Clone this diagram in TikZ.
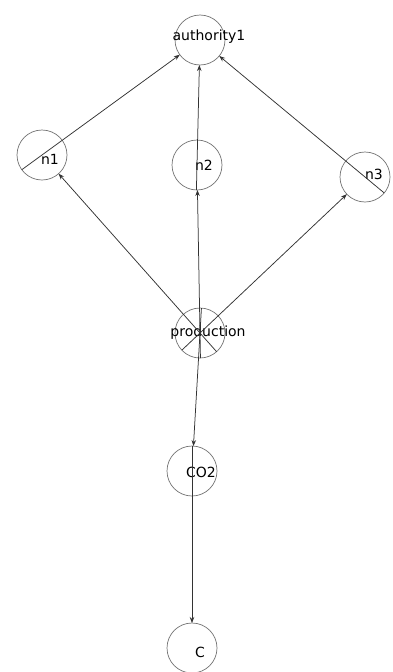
\documentclass[tikz,border=0pt]{standalone}
\usepackage{fontspec}
\setmainfont{DejaVu Sans}
\usetikzlibrary{calc,arrows.meta}
\tikzset{
  state/.style={circle, draw=black!55, line width=0.7pt, minimum size=50pt, inner sep=0pt},
  lbl/.style={font=\fontsize{14}{16}\selectfont, text=black},
  edge/.style={draw=black!80, line width=0.75pt, -{Stealth[length=6pt,width=4.5pt]}}
}
\newcommand{\edgeline}[2]{\draw[edge] ($(#1.center)!-25pt!(#2.center)$) -- ($(#2.center)!25pt!(#1.center)$);}
\begin{document}
\begin{tikzpicture}[x=1pt,y=-1pt]
\useasboundingbox (0,0) rectangle (393,672);
\node[state, label={[lbl,xshift=9pt,yshift=3pt]center:authority1}] (auth) at (200,40) {};
\node[state, label={[lbl,xshift=8pt,yshift=-4pt]center:n1}] (n1) at (42,155) {};
\node[state, label={[lbl,xshift=7pt]center:n2}] (n2) at (197,165) {};
\node[state, label={[lbl,xshift=9pt,yshift=3pt]center:n3}] (n3) at (365,177) {};
\node[state, label={[lbl,xshift=8pt]center:production}] (prod) at (200,333) {};
\node[state, label={[lbl,xshift=9pt,yshift=-1pt]center:CO2}] (co2) at (192,471) {};
\node[state, label={[lbl,xshift=8pt,yshift=-4pt]center:C}] (c) at (192,648) {};
\edgeline{n1}{auth}
\edgeline{n2}{auth}
\edgeline{n3}{auth}
\edgeline{prod}{n1}
\edgeline{prod}{n2}
\edgeline{prod}{n3}
\edgeline{prod}{co2}
\edgeline{co2}{c}
\end{tikzpicture}
\end{document}
